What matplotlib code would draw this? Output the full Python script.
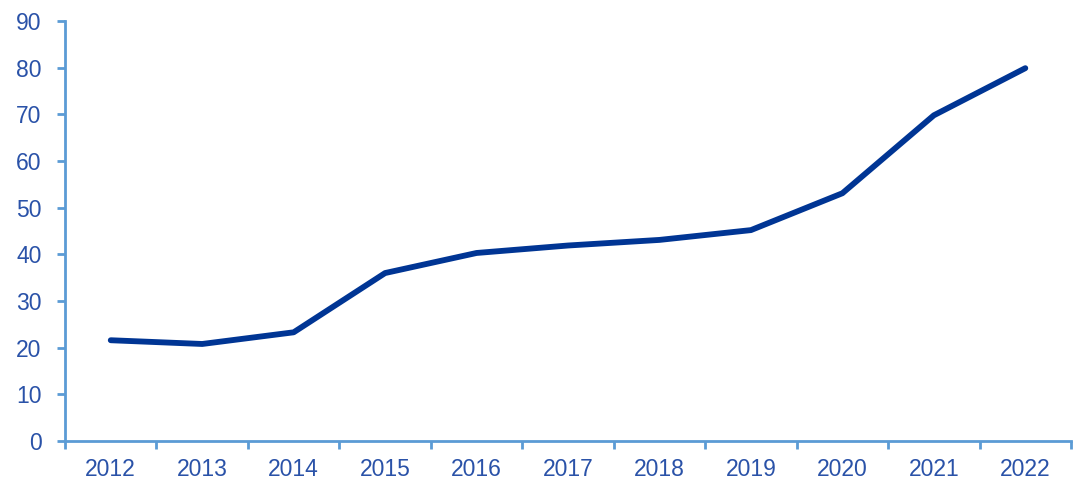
import numpy as np
import matplotlib
matplotlib.use("Agg")
import matplotlib.pyplot as plt

years = ["2012", "2013", "2014", "2015", "2016", "2017", "2018", "2019", "2020", "2021", "2022"]
values = [21.6, 20.8, 23.3, 36.0, 40.3, 41.9, 43.1, 45.2, 53.1, 69.8, 79.9]

plt.rcParams['font.family'] = ['Liberation Sans', 'DejaVu Sans']

text_color = "#2a52a8"
axis_color = "#5b9bd5"
line_color = "#003594"

fig = plt.figure(figsize=(10.8, 4.95), dpi=100)
ax = fig.add_axes([0.0602, 0.109, 0.9315, 0.8485])

x = np.arange(len(years))
ax.plot(x, values, color=line_color, lw=4.2, solid_capstyle="round", solid_joinstyle="round")

ax.set_xlim(-0.5, len(years) - 0.5)
ax.set_ylim(0, 90)
ax.set_yticks(range(0, 91, 10))
ax.set_xticks(x)
ax.set_xticklabels(years)
ax.set_xticks(np.arange(-0.5, len(years), 1), minor=True)

for s in ["top", "right"]:
    ax.spines[s].set_visible(False)
for s in ["left", "bottom"]:
    ax.spines[s].set_color(axis_color)
    ax.spines[s].set_linewidth(2)

ax.tick_params(axis="y", colors=axis_color, labelcolor=text_color, labelsize=16.5,
               length=6, width=2, pad=11)
ax.tick_params(axis="x", which="major", length=0, labelcolor=text_color, labelsize=16.5, pad=12)
ax.tick_params(axis="x", which="minor", colors=axis_color, length=6, width=2)

fig.savefig("out.png", dpi=100)
